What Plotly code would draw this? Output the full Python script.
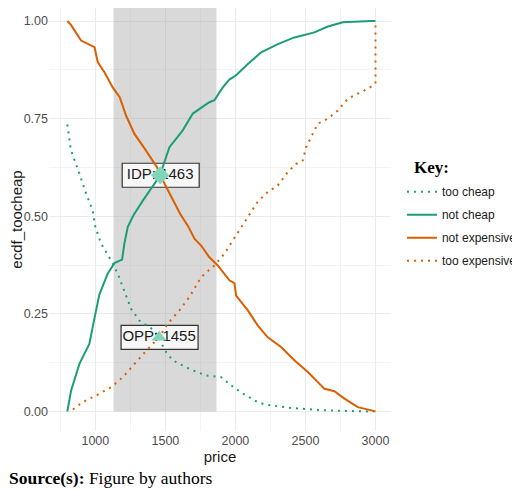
import plotly.graph_objects as go

# price points and ECDF values
too_cheap_price = [800, 826, 886, 934, 981, 1000, 1041, 1112, 1160, 1207, 1255, 1314, 1410, 1455,
                   1493, 1553, 1671, 1791, 1898, 1969, 2041, 2136, 2207, 2398, 2588, 2826, 2990]
too_cheap = [0.735, 0.669, 0.609, 0.558, 0.515, 0.472, 0.43, 0.387, 0.353, 0.31, 0.263, 0.233, 0.21, 0.19,
             0.158, 0.131, 0.109, 0.092, 0.088, 0.067, 0.049, 0.028, 0.018, 0.009, 0.004, 0.001, 0.0]

not_cheap_price = [800, 827, 886, 957, 1000, 1029, 1088, 1136, 1191, 1207, 1231, 1271, 1339, 1410, 1463,
                   1493, 1529, 1624, 1696, 1814, 1850, 1910, 1957, 2005, 2089, 2184, 2303, 2421, 2564,
                   2660, 2767, 2969, 3000]
not_cheap = [0.0, 0.054, 0.122, 0.173, 0.25, 0.30, 0.353, 0.38, 0.389, 0.43, 0.472, 0.502, 0.54, 0.579, 0.605,
             0.639, 0.677, 0.72, 0.763, 0.792, 0.797, 0.83, 0.85, 0.861, 0.89, 0.92, 0.941, 0.958, 0.971,
             0.986, 0.997, 1.0, 1.0]

not_exp_price = [800, 826, 898, 994, 1017, 1065, 1124, 1174, 1219, 1279, 1345, 1405, 1441, 1463, 1505,
                 1553, 1606, 1660, 1709, 1755, 1814, 1874, 1957, 1993, 2005, 2089, 2160, 2231, 2326, 2421,
                 2517, 2636, 2707, 2779, 2874, 2993, 3000]
not_exp = [1.0, 0.99, 0.95, 0.933, 0.895, 0.869, 0.83, 0.805, 0.758, 0.711, 0.677, 0.645, 0.625, 0.605, 0.575,
           0.54, 0.506, 0.476, 0.442, 0.425, 0.395, 0.374, 0.336, 0.329, 0.297, 0.259, 0.22, 0.19, 0.165, 0.131,
           0.101, 0.058, 0.052, 0.033, 0.011, 0.001, 0.0]

too_exp_price = [840, 910, 1005, 1112, 1196, 1279, 1362, 1455, 1517, 1600, 1671, 1755, 1850, 1921, 2017,
                 2089, 2160, 2231, 2303, 2374, 2434, 2481, 2505, 2541, 2588, 2660, 2731, 2803, 2874, 2957,
                 3000, 3000]
too_exp = [0.005, 0.024, 0.041, 0.062, 0.088, 0.122, 0.155, 0.19, 0.225, 0.259, 0.293, 0.344, 0.374, 0.404,
           0.459, 0.497, 0.538, 0.562, 0.579, 0.613, 0.634, 0.643, 0.677, 0.703, 0.737, 0.75, 0.771, 0.801,
           0.814, 0.829, 0.84, 1.0]

# acceptable range and the two points
pmc, pme = 1130, 1865
idp_price, idp_y = 1463, 0.605
opp_price, opp_y = 1455, 0.19

green = "#1b9e77"
orange = "#d95f02"
mint = "#7fd6b8"
dotted = "2px,5px"

fig = go.Figure()

# grey band first so the label boxes land on top of it
fig.add_shape(
    type="rect", layer="between", x0=pmc, x1=pme, y0=0, y1=1.05,
    fillcolor="rgba(160,160,160,0.4)", line=dict(width=0),
)

series = [
    ("too cheap", too_cheap_price, too_cheap, green, dotted),
    ("not cheap", not_cheap_price, not_cheap, green, "solid"),
    ("not expensive", not_exp_price, not_exp, orange, "solid"),
    ("too expensive", too_exp_price, too_exp, orange, dotted),
]
for name, xs, ys, col, dash in series:
    fig.add_trace(go.Scatter(
        x=xs, y=ys, mode="lines", name=name, legendgroup=name,
        line=dict(color=col, width=2, dash=dash),
    ))

# label boxes sit under the lines, text and markers on top
for px, py in [(idp_price, idp_y), (opp_price, opp_y)]:
    fig.add_shape(
        type="rect", layer="between",
        xsizemode="pixel", ysizemode="pixel", xanchor=px, yanchor=py,
        x0=-38, x1=39, y0=-12, y1=12,
        fillcolor="#f7f7f7", line=dict(color="#333333", width=1.2),
    )

fig.add_trace(go.Scatter(
    x=[idp_price, opp_price], y=[idp_y, opp_y], mode="text",
    text=[f"IDP: {idp_price}", f"OPP: {opp_price}"],
    textfont=dict(family="Liberation Sans", size=15, color="#1a1a1a"),
    showlegend=False,
))
fig.add_trace(go.Scatter(
    x=[idp_price], y=[idp_y], mode="markers",
    marker=dict(symbol="diamond", size=14, color=mint), showlegend=False,
))
fig.add_trace(go.Scatter(
    x=[opp_price], y=[opp_y], mode="markers",
    marker=dict(symbol="triangle-up", size=13, color=mint), showlegend=False,
))

fig.add_annotation(
    text="<b>Source(s):</b> Figure by authors",
    xref="paper", yref="paper", x=-0.124, y=-0.111,
    xanchor="left", yanchor="middle", showarrow=False,
    font=dict(family="Liberation Serif", size=17.5, color="black"),
)
fig.add_annotation(
    text="<b>Key:</b>",
    xref="paper", yref="paper", x=1.061, y=0.622,
    xanchor="left", yanchor="middle", showarrow=False,
    font=dict(family="Liberation Serif", size=17, color="black"),
)

fig.update_layout(
    width=512, height=482,
    margin=dict(l=41, r=129, t=0, b=59, autoexpand=False),
    paper_bgcolor="white", plot_bgcolor="white",
    font=dict(family="Liberation Sans", color="#1a1a1a"),
    showlegend=True,
    legend=dict(
        x=1.032, xanchor="left", y=0.6, yanchor="top",
        font=dict(family="Liberation Sans", size=12, color="#1a1a1a"),
        tracegroupgap=4, bgcolor="rgba(0,0,0,0)",
    ),
    xaxis=dict(
        range=[669, 3111], tickvals=[1000, 1500, 2000, 2500, 3000], automargin=False,
        showgrid=True, gridcolor="#ebebeb", gridwidth=1.1, zeroline=False, ticks="",
        minor=dict(dtick=250, tick0=750, showgrid=True, gridcolor="#f3f3f3", gridwidth=0.6),
        tickfont=dict(size=12.5, color="#4d4d4d"),
        title=dict(text="price", font=dict(size=15, color="#1a1a1a"), standoff=4),
    ),
    yaxis=dict(
        range=[-0.05, 1.0334], tickvals=[0, 0.25, 0.5, 0.75, 1.0], automargin=False,
        ticktext=["0.00", "0.25", "0.50", "0.75", "1.00"],
        showgrid=True, gridcolor="#ebebeb", gridwidth=1.1, zeroline=False, ticks="",
        minor=dict(dtick=0.125, tick0=0, showgrid=True, gridcolor="#f3f3f3", gridwidth=0.6),
        tickfont=dict(size=12.5, color="#4d4d4d"),
        title=dict(text="ecdf_toocheap", font=dict(size=15, color="#1a1a1a"), standoff=2),
    ),
)

fig.write_html("out.html")
